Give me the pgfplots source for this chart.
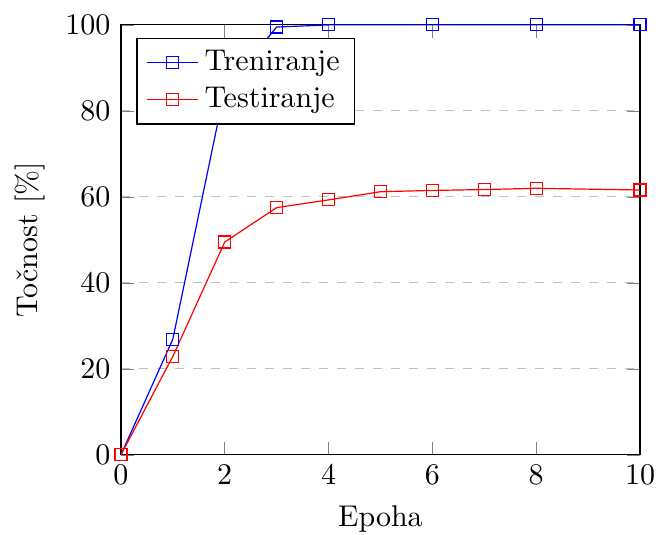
\documentclass[border=0pt]{standalone}
\usepackage{pgfplots}
\pgfplotsset{compat=1.18}
\begin{document}
\begin{tikzpicture}
\path[use as bounding box] (-40.3pt,-26.7pt) rectangle (179pt,151.6pt);
\begin{axis}[
  at={(0pt,0pt)}, anchor=south west,
  scale only axis,
  width=173pt, height=143.3pt,
  xmin=0, xmax=10, ymin=0, ymax=100,
  xtick={0,2,4,6,8,10},
  ytick={0,20,40,60,80,100},
  ymajorgrids,
  grid style={dashed, gray!50},
  xlabel={Epoha},
  ylabel={Točnost [\%]},
  legend pos=north west,
  legend cell align=left,
]
\addplot[blue, mark=square] coordinates {
(0,0) (1,26.9) (2,85) (3,99.5) (4,100) (6,100) (8,100) (10,100)
};
\addlegendentry{Treniranje}
\addplot[red, mark=square] coordinates {
(0,0) (1,22.9) (2,49.5) (3,57.5) (4,59.3) (5,61.2) (6,61.5) (7,61.7) (8,62.0) (10,61.6)
};
\addlegendentry{Testiranje}
\end{axis}
\end{tikzpicture}
\end{document}
